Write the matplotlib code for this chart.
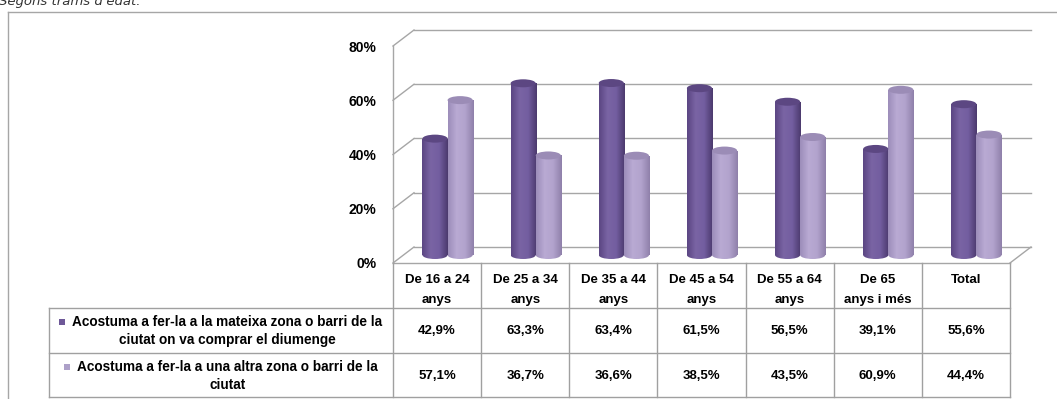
import numpy as np
import matplotlib
matplotlib.use("Agg")
import matplotlib.pyplot as plt
from matplotlib.patches import Ellipse, Rectangle
from matplotlib.colors import LinearSegmentedColormap

# data
categories = ["De 16 a 24\nanys", "De 25 a 34\nanys", "De 35 a 44\nanys",
              "De 45 a 54\nanys", "De 55 a 64\nanys", "De 65\nanys i més", "Total"]
series_names = ["Acostuma a fer-la a la mateixa zona o barri de la\nciutat on va comprar el diumenge",
                "Acostuma a fer-la a una altra zona o barri de la\nciutat"]
same_zone = [42.9, 63.3, 63.4, 61.5, 56.5, 39.1, 55.6]
other_zone = [57.1, 36.7, 36.6, 38.5, 43.5, 60.9, 44.4]
y_ticks = [0, 20, 40, 60, 80]
title = "Segons trams d'edat."

plt.rcParams['font.family'] = ['Liberation Sans', 'DejaVu Sans']

W, H = 1057, 399
fig = plt.figure(figsize=(W / 100, H / 100), dpi=100)

def px_axes(x0, y0, x1, y1):
    return fig.add_axes([x0 / W, 1 - y1 / H, (x1 - x0) / W, (y1 - y0) / H])

# front plane of the 3d box
FX0, FX1, FY0, FY1 = 393, 1010, 263, 46
ax = px_axes(FX0, FY1, FX1, FY0)
n = len(categories)
ax.set_xlim(-0.5, n - 0.5)
ax.set_ylim(0, 80)
for s in ax.spines.values():
    s.set_visible(False)
ax.patch.set_alpha(0)
ax.set_xticks([])
ax.set_yticks(y_ticks)
ax.set_yticklabels([f"{t}%" for t in y_ticks], fontweight='bold', fontsize=10)
ax.tick_params(axis='y', length=0, pad=12)

# depth offset (px) -> data units
sx = (FX1 - FX0) / n
sy = (FY0 - FY1) / 80.0
ddx, ddy = 21 / sx, 16 / sy
grid_c = '#A6A6A6'

# back wall + side wall
for v in y_ticks:
    ax.plot([-0.5 + ddx, n - 0.5 + ddx], [v + ddy, v + ddy], color=grid_c, lw=1, clip_on=False)
    ax.plot([-0.5, -0.5 + ddx], [v, v + ddy], color=grid_c, lw=1, clip_on=False)
ax.plot([-0.5, -0.5], [0, 80], color=grid_c, lw=1, clip_on=False)
ax.plot([-0.5, n - 0.5], [0, 0], color=grid_c, lw=1, clip_on=False)
ax.plot([n - 0.5, n - 0.5 + ddx], [0, ddy], color=grid_c, lw=1, clip_on=False)

# cylinders at mid depth
mx, my = ddx / 2, ddy / 2
bw = 0.285
eh = 8 / sy
x = np.arange(n)
dark_cmap = LinearSegmentedColormap.from_list('d', ['#5B4683', '#7A64A4', '#735EA0', '#4C3A6E'])
light_cmap = LinearSegmentedColormap.from_list('l', ['#9C8DBA', '#B9AAD3', '#B2A3CD', '#8F80AA'])
grad = np.linspace(0, 1, 64).reshape(1, -1)

def cylinders(xs, vals, cmap, cap_c):
    bars = ax.bar(xs, vals, width=bw, bottom=my, align='edge', color='none', lw=0)
    for b, v in zip(bars, vals):
        x0 = b.get_x()
        bottom = Ellipse((x0 + bw / 2, my), bw, eh, fc='none', ec='none')
        ax.add_patch(bottom)
        for clip, ext in [(b, [x0, x0 + bw, my, my + v]),
                          (bottom, [x0, x0 + bw, my - eh / 2, my + eh / 2])]:
            im = ax.imshow(grad, cmap=cmap, extent=ext, aspect='auto', zorder=2)
            im.set_clip_path(clip)
        ax.add_patch(Ellipse((x0 + bw / 2, my + v), bw, eh, fc=cap_c, ec='none', zorder=3))

cylinders(x + mx - bw, same_zone, dark_cmap, '#5C4782')
cylinders(x + mx, other_zone, light_cmap, '#9B8CB6')
ax.set_xlim(-0.5, n - 0.5)
ax.set_ylim(0, 80)

# data table below, x in category units
tab = fig.add_axes([0, 0, 1, 1])
tab.set_xlim(-0.5 - FX0 / sx, n - 0.5 + (W - FX1) / sx)
tab.set_ylim(H, 0)
tab.axis('off')
tab.patch.set_alpha(0)
line_c = '#A0A0A0'
LX = -0.5 - (FX0 - 49) / sx
rows_y = [308, 353, 397]
for yy in rows_y:
    tab.plot([LX, n - 0.5], [yy, yy], color=line_c, lw=1)
tab.plot([LX, LX], [308, 397], color=line_c, lw=1)
for i in range(n + 1):
    tab.plot([i - 0.5, i - 0.5], [FY0, 397], color=line_c, lw=1)

for i, lab in enumerate(categories):
    for j, part in enumerate(lab.split("\n")):
        tab.text(i, 280 + 20 * j, part, ha='center', va='center', fontsize=9.5, fontweight='bold')

for r, (vals, name) in enumerate(zip([same_zone, other_zone], series_names)):
    yc = 331 + 45 * r
    for i, v in enumerate(vals):
        tab.text(i, yc, f"{v:.1f}%".replace('.', ','), ha='center', va='center',
                 fontsize=9.5, fontweight='bold')

fig.canvas.draw()
rend = fig.canvas.get_renderer()
cx = -0.5 - (FX0 - 221) / sx
key_c = ['#6E5898', '#ADA0C8']
for r, name in enumerate(series_names):
    lines = name.split("\n")
    y1 = 322 + 45 * r
    gap = 13 / sx
    t = tab.text(cx + gap / 2, y1, lines[0], ha='center', va='center', fontsize=9.8, fontweight='bold')
    bb = t.get_window_extent(rend)
    left = tab.transData.inverted().transform((bb.x0, 0))[0]
    tab.add_patch(Rectangle((left - gap, y1 - 3), 6 / sx, 6, fc=key_c[r], ec='none'))
    for j, part in enumerate(lines[1:]):
        tab.text(cx + gap / 2, y1 + 18 * (j + 1), part, ha='center', va='center',
                 fontsize=9.8, fontweight='bold')

# chart frame and cut title
fig.add_artist(plt.Line2D([8 / W, 1], [1 - 12 / H, 1 - 12 / H], color='#A6A6A6', lw=1))
fig.add_artist(plt.Line2D([8 / W, 8 / W], [0, 1 - 12 / H], color='#A6A6A6', lw=1))
fig.text(-1 / W, 1 - 5 / H, title, fontsize=9.5, style='italic', color='#333333',
         va='baseline', family='DejaVu Sans')

fig.savefig("out.png", dpi=100)
